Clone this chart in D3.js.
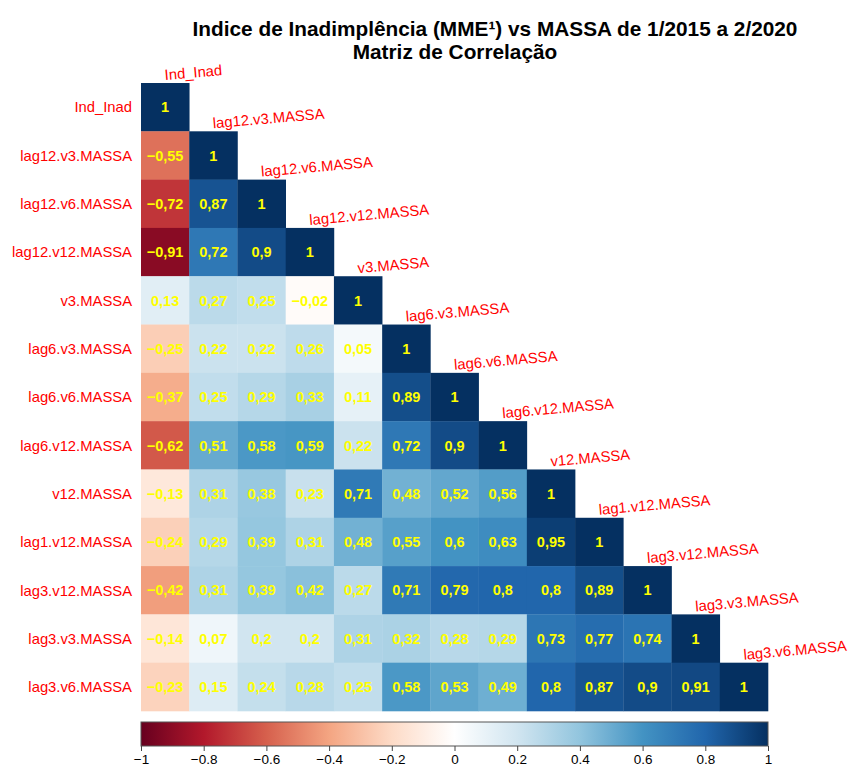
<!DOCTYPE html>
<html>
<head>
<meta charset="utf-8">
<script src="https://cdn.jsdelivr.net/npm/d3@7"></script>
<style>
  html, body { margin: 0; padding: 0; background: #ffffff; }
  svg { display: block; }
</style>
</head>
<body>
<svg id="chart" width="850" height="769"></svg>
<script>
// Variable names (row order = column order)
const variables = [
  "Ind_Inad", "lag12.v3.MASSA", "lag12.v6.MASSA", "lag12.v12.MASSA",
  "v3.MASSA", "lag6.v3.MASSA", "lag6.v6.MASSA", "lag6.v12.MASSA",
  "v12.MASSA", "lag1.v12.MASSA", "lag3.v12.MASSA", "lag3.v3.MASSA", "lag3.v6.MASSA"
];

// Lower-triangle correlations, one array per row (diagonal included)
const corrRows = [
  [1],
  [-0.55, 1],
  [-0.72, 0.87, 1],
  [-0.91, 0.72, 0.9, 1],
  [0.13, 0.27, 0.25, -0.02, 1],
  [-0.25, 0.22, 0.22, 0.26, 0.05, 1],
  [-0.37, 0.25, 0.29, 0.33, 0.11, 0.89, 1],
  [-0.62, 0.51, 0.58, 0.59, 0.22, 0.72, 0.9, 1],
  [-0.13, 0.31, 0.38, 0.23, 0.71, 0.48, 0.52, 0.56, 1],
  [-0.24, 0.29, 0.39, 0.31, 0.48, 0.55, 0.6, 0.63, 0.95, 1],
  [-0.42, 0.31, 0.39, 0.42, 0.27, 0.71, 0.79, 0.8, 0.8, 0.89, 1],
  [-0.14, 0.07, 0.2, 0.2, 0.31, 0.32, 0.28, 0.29, 0.73, 0.77, 0.74, 1],
  [-0.23, 0.15, 0.24, 0.28, 0.25, 0.58, 0.53, 0.49, 0.8, 0.87, 0.9, 0.91, 1]
];

// Colour legend ticks
const legendTicks = [-1, -0.8, -0.6, -0.4, -0.2, 0, 0.2, 0.4, 0.6, 0.8, 1];

// RdBu diverging palette stops
const paletteStops = ["#67001F", "#B2182B", "#D6604D", "#F4A582", "#FDDBC7", "#FFFFFF",
                      "#D1E5F0", "#92C5DE", "#4393C3", "#2166AC", "#053061"];

const titleLines = [
  "Indice de Inadimplência (MME¹) vs MASSA de 1/2015 a 2/2020",
  "Matriz de Correlação"
];

const svg = d3.select("#chart");
const font = "'Liberation Sans', Arial, Helvetica, sans-serif";

const gridLeft = 141, gridRight = 768, gridTop = 83, gridBottom = 711;

const x = d3.scaleBand().domain(d3.range(variables.length)).range([gridLeft, gridRight]).padding(0);
const y = d3.scaleBand().domain(d3.range(variables.length)).range([gridTop, gridBottom]).padding(0);

const color = d3.scaleLinear()
  .domain(d3.range(paletteStops.length).map(i => -1 + 2 * i / (paletteStops.length - 1)))
  .range(paletteStops)
  .interpolate(d3.interpolateRgb);

const cells = [];
corrRows.forEach((row, i) => row.forEach((v, j) => cells.push({ i, j, v })));

const fmtCell = v => String(v).replace(".", ",").replace("-", "\u2212");
const fmtTick = v => String(v).replace("-", "\u2212");

// Title
svg.append("text")
  .attr("x", 495).attr("y", 36)
  .attr("text-anchor", "middle")
  .attr("font-family", font).attr("font-weight", "bold").attr("font-size", 20.8)
  .attr("fill", "#000")
  .text(titleLines[0]);
svg.append("text")
  .attr("x", 455).attr("y", 59)
  .attr("text-anchor", "middle")
  .attr("font-family", font).attr("font-weight", "bold").attr("font-size", 20.8)
  .attr("fill", "#000")
  .text(titleLines[1]);

// Matrix cells
svg.append("g").selectAll("rect")
  .data(cells).join("rect")
  .attr("x", d => x(d.j))
  .attr("y", d => y(d.i))
  .attr("width", x.bandwidth() + 0.3)
  .attr("height", y.bandwidth() + 0.3)
  .attr("fill", d => color(d.v));

// Coefficient labels
svg.append("g").selectAll("text")
  .data(cells).join("text")
  .attr("x", d => x(d.j) + x.bandwidth() / 2)
  .attr("y", d => y(d.i) + y.bandwidth() / 2)
  .attr("dy", "0.36em")
  .attr("text-anchor", "middle")
  .attr("font-family", font).attr("font-weight", "bold").attr("font-size", 14.5)
  .attr("fill", "#FFFF00")
  .text(d => fmtCell(d.v));

// Row labels
svg.append("g").selectAll("text")
  .data(variables).join("text")
  .attr("x", gridLeft - 9)
  .attr("y", (d, i) => y(i) + y.bandwidth() / 2)
  .attr("dy", "0.36em")
  .attr("text-anchor", "end")
  .attr("font-family", font).attr("font-size", 14.8)
  .attr("fill", "#FF0000")
  .text(d => d);

// Column labels along the diagonal
svg.append("g").selectAll("text")
  .data(variables).join("text")
  .attr("transform", (d, i) => `translate(${x(i) + x.bandwidth() / 2},${y(i) - 3}) rotate(-5)`)
  .attr("text-anchor", "start")
  .attr("font-family", font).attr("font-size", 14.8)
  .attr("fill", "#FF0000")
  .text(d => d);

// Colour legend
const lx = d3.scaleLinear().domain([-1, 1]).range([gridLeft, gridRight]);
const legTop = 722, legH = 24;
const defs = svg.append("defs");
const grad = defs.append("linearGradient").attr("id", "legendGrad")
  .attr("x1", "0%").attr("x2", "100%").attr("y1", "0%").attr("y2", "0%");
grad.selectAll("stop")
  .data(paletteStops).join("stop")
  .attr("offset", (d, i) => (100 * i / (paletteStops.length - 1)) + "%")
  .attr("stop-color", d => d);

svg.append("rect")
  .attr("x", lx(-1)).attr("y", legTop)
  .attr("width", lx(1) - lx(-1)).attr("height", legH)
  .attr("fill", "url(#legendGrad)")
  .attr("stroke", "#555").attr("stroke-width", 1);

const axis = d3.axisBottom(lx)
  .tickValues(legendTicks)
  .tickSize(5)
  .tickFormat(fmtTick);
const ag = svg.append("g")
  .attr("transform", `translate(0,${legTop + legH})`)
  .call(axis);
ag.select(".domain").remove();
ag.selectAll(".tick line").attr("stroke", "#444");
ag.selectAll(".tick text")
  .attr("font-family", font).attr("font-size", 13.5)
  .attr("fill", "#000")
  .attr("y", 8).attr("dy", "0.71em");
</script>
</body>
</html>
